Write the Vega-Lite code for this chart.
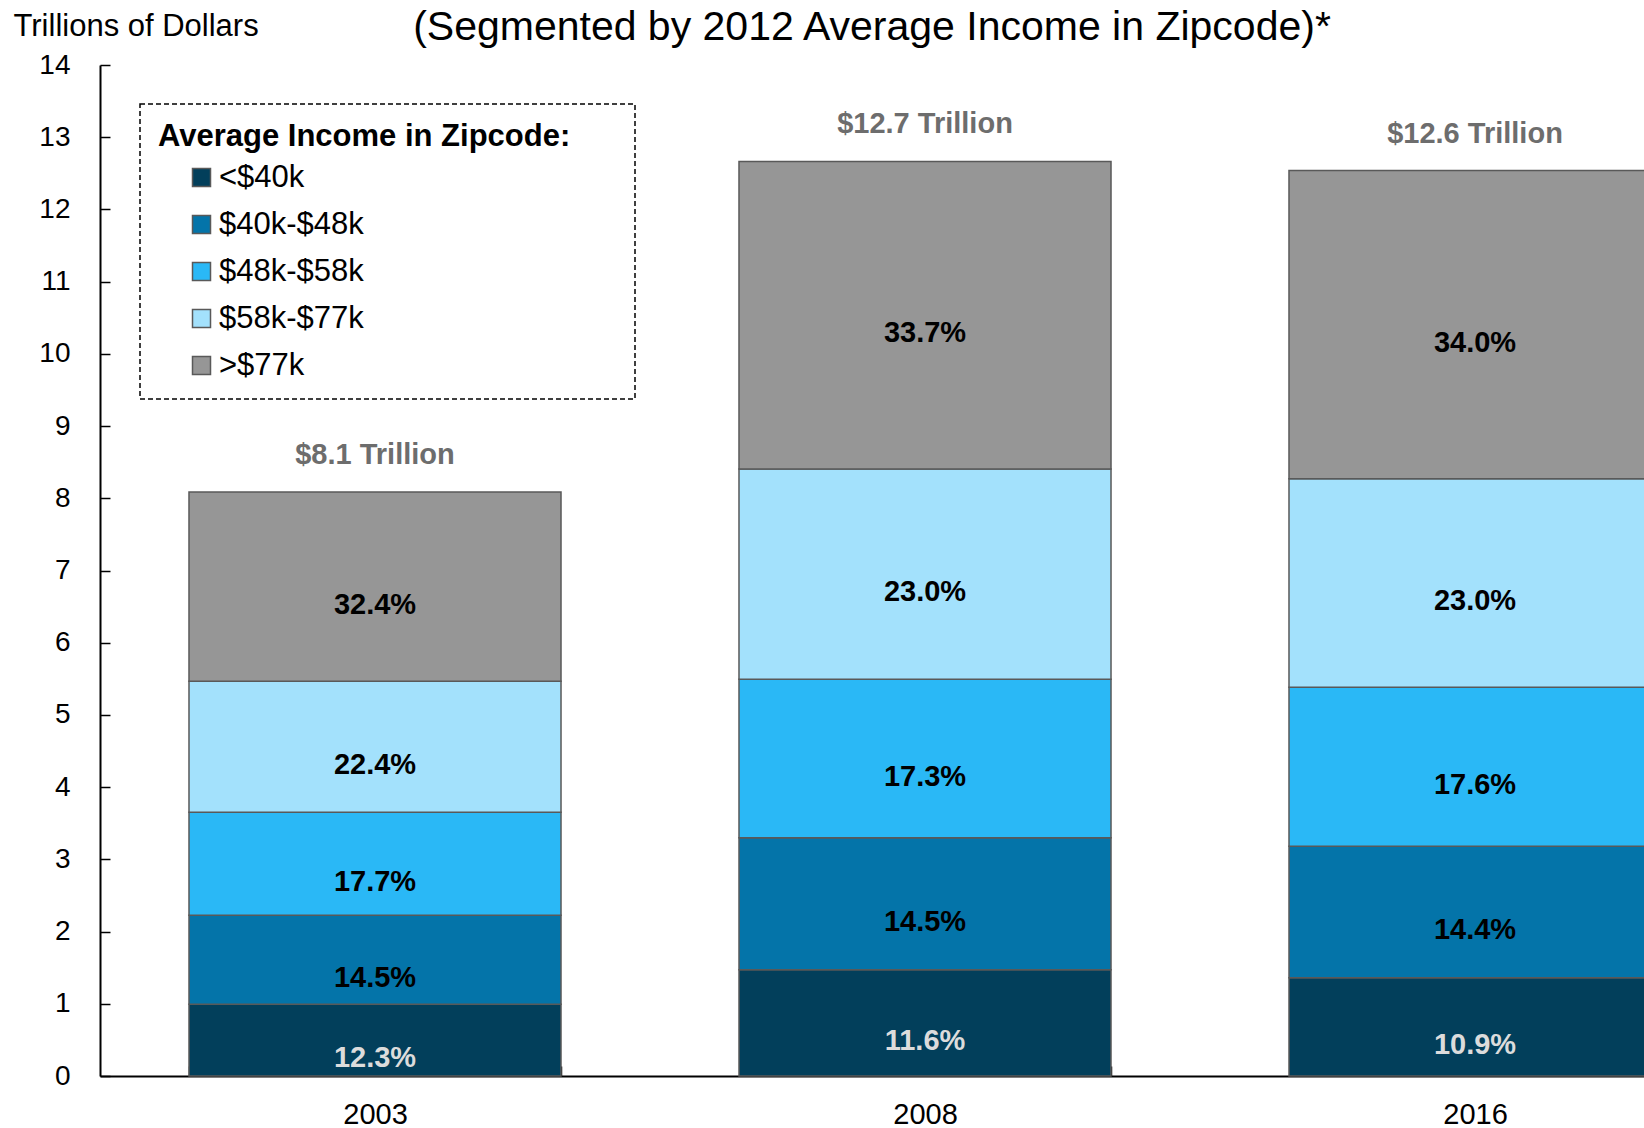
{
  "$schema": "https://vega.github.io/schema/vega-lite/v6.json",
  "width": 1544,
  "height": 1011,
  "autosize": "none",
  "padding": {"left": 100, "top": 65, "right": 0, "bottom": 52},
  "background": "white",
  "config": {
    "font": "Liberation Sans",
    "view": {"stroke": null},
    "legend": {"strokeDash": [5, 3], "strokeWidth": 1.5, "strokeColor": "black"}
  },
  "title": {
    "text": "(Segmented by 2012 Average Income in Zipcode)*",
    "fontSize": 41,
    "fontWeight": "normal",
    "color": "black",
    "anchor": "middle",
    "frame": "group",
    "baseline": "alphabetic",
    "offset": 0,
    "dy": 71
  },
  "data": {
    "values": [
      {"year": "2003", "group": "<$40k", "value": 0.992, "pct": "12.3%", "rank": 1},
      {"year": "2003", "group": "$40k-$48k", "value": 1.233, "pct": "14.5%", "rank": 2},
      {"year": "2003", "group": "$48k-$58k", "value": 1.429, "pct": "17.7%", "rank": 3},
      {"year": "2003", "group": "$58k-$77k", "value": 1.814, "pct": "22.4%", "rank": 4},
      {"year": "2003", "group": ">$77k", "value": 2.62, "pct": "32.4%", "rank": 5},
      {"year": "2008", "group": "<$40k", "value": 1.47, "pct": "11.6%", "rank": 1},
      {"year": "2008", "group": "$40k-$48k", "value": 1.83, "pct": "14.5%", "rank": 2},
      {"year": "2008", "group": "$48k-$58k", "value": 2.193, "pct": "17.3%", "rank": 3},
      {"year": "2008", "group": "$58k-$77k", "value": 2.914, "pct": "23.0%", "rank": 4},
      {"year": "2008", "group": ">$77k", "value": 4.258, "pct": "33.7%", "rank": 5},
      {"year": "2016", "group": "<$40k", "value": 1.361, "pct": "10.9%", "rank": 1},
      {"year": "2016", "group": "$40k-$48k", "value": 1.822, "pct": "14.4%", "rank": 2},
      {"year": "2016", "group": "$48k-$58k", "value": 2.2, "pct": "17.6%", "rank": 3},
      {"year": "2016", "group": "$58k-$77k", "value": 2.889, "pct": "23.0%", "rank": 4},
      {"year": "2016", "group": ">$77k", "value": 4.266, "pct": "34.0%", "rank": 5}
    ]
  },
  "layer": [
    {
      "mark": {"type": "bar", "stroke": "#595959", "strokeWidth": 1.5},
      "encoding": {
        "x": {
          "field": "year",
          "type": "ordinal",
          "scale": {"range": [0, 1650], "paddingInner": 0.3236, "paddingOuter": 0.1618},
          "axis": {
            "title": null,
            "labelAngle": 0,
            "labelFontSize": 29,
            "labelColor": "black",
            "tickBand": "extent",
            "tickSize": -10,
            "tickColor": "black",
            "tickWidth": 1.5,
            "labelPadding": 34,
            "domainColor": "black",
            "domainWidth": 2,
            "grid": false
          }
        },
        "y": {
          "field": "value",
          "type": "quantitative",
          "stack": "zero",
          "scale": {"domain": [0, 14], "nice": false},
          "axis": {
            "title": "Trillions of Dollars",
            "titleAngle": 0,
            "titleX": -87,
            "titleY": -30,
            "titleAlign": "left",
            "titleBaseline": "alphabetic",
            "titleFontSize": 31,
            "titleFontWeight": "normal",
            "titleColor": "black",
            "values": [0, 1, 2, 3, 4, 5, 6, 7, 8, 9, 10, 11, 12, 13, 14],
            "format": "d",
            "labelFontSize": 28,
            "labelColor": "black",
            "tickSize": -10,
            "tickColor": "black",
            "tickWidth": 1.5,
            "labelPadding": 40,
            "domainColor": "black",
            "domainWidth": 2,
            "grid": false
          }
        },
        "color": {
          "field": "group",
          "type": "nominal",
          "scale": {
            "domain": ["<$40k", "$40k-$48k", "$48k-$58k", "$58k-$77k", ">$77k"],
            "range": ["#023f5b", "#0474a9", "#2ab8f6", "#a3e1fc", "#969696"]
          },
          "legend": {
            "orient": "none",
            "legendX": 40,
            "legendY": 39,
            "title": "Average Income in Zipcode:\u2800\u2800",
            "titleFontSize": 31,
            "titleFontWeight": "bold",
            "titleColor": "black",
            "titlePadding": 9,
            "titleLimit": 1000,
            "labelFontSize": 31,
            "labelColor": "black",
            "symbolType": "square",
            "symbolSize": 324,
            "symbolStrokeColor": "#595959",
            "symbolStrokeWidth": 1.5,
            "symbolOffset": 28,
            "labelOffset": 2,
            "rowPadding": 15,
            "padding": 18,
            "fillColor": "white"
          }
        },
        "order": {"field": "rank", "type": "quantitative"}
      }
    },
    {
      "mark": {"type": "text", "fontSize": 29, "fontWeight": "bold", "dy": 18, "baseline": "middle"},
      "encoding": {
        "x": {"field": "year", "type": "ordinal"},
        "y": {"field": "value", "type": "quantitative", "stack": "zero", "bandPosition": 0.5},
        "detail": {"field": "group"},
        "order": {"field": "rank", "type": "quantitative"},
        "text": {"field": "pct"},
        "color": {"condition": {"test": "datum.group === '<$40k'", "value": "#dcdcdc"}, "value": "#000000"}
      }
    },
    {
      "data": {
        "values": [
          {"year": "2003", "total": 8.088, "label": "$8.1 Trillion"},
          {"year": "2008", "total": 12.665, "label": "$12.7 Trillion"},
          {"year": "2016", "total": 12.538, "label": "$12.6 Trillion"}
        ]
      },
      "mark": {"type": "text", "fontSize": 29, "fontWeight": "bold", "color": "#6d6d6d", "dy": -37, "baseline": "middle"},
      "encoding": {
        "x": {"field": "year", "type": "ordinal"},
        "y": {"field": "total", "type": "quantitative"},
        "text": {"field": "label"}
      }
    }
  ]
}
